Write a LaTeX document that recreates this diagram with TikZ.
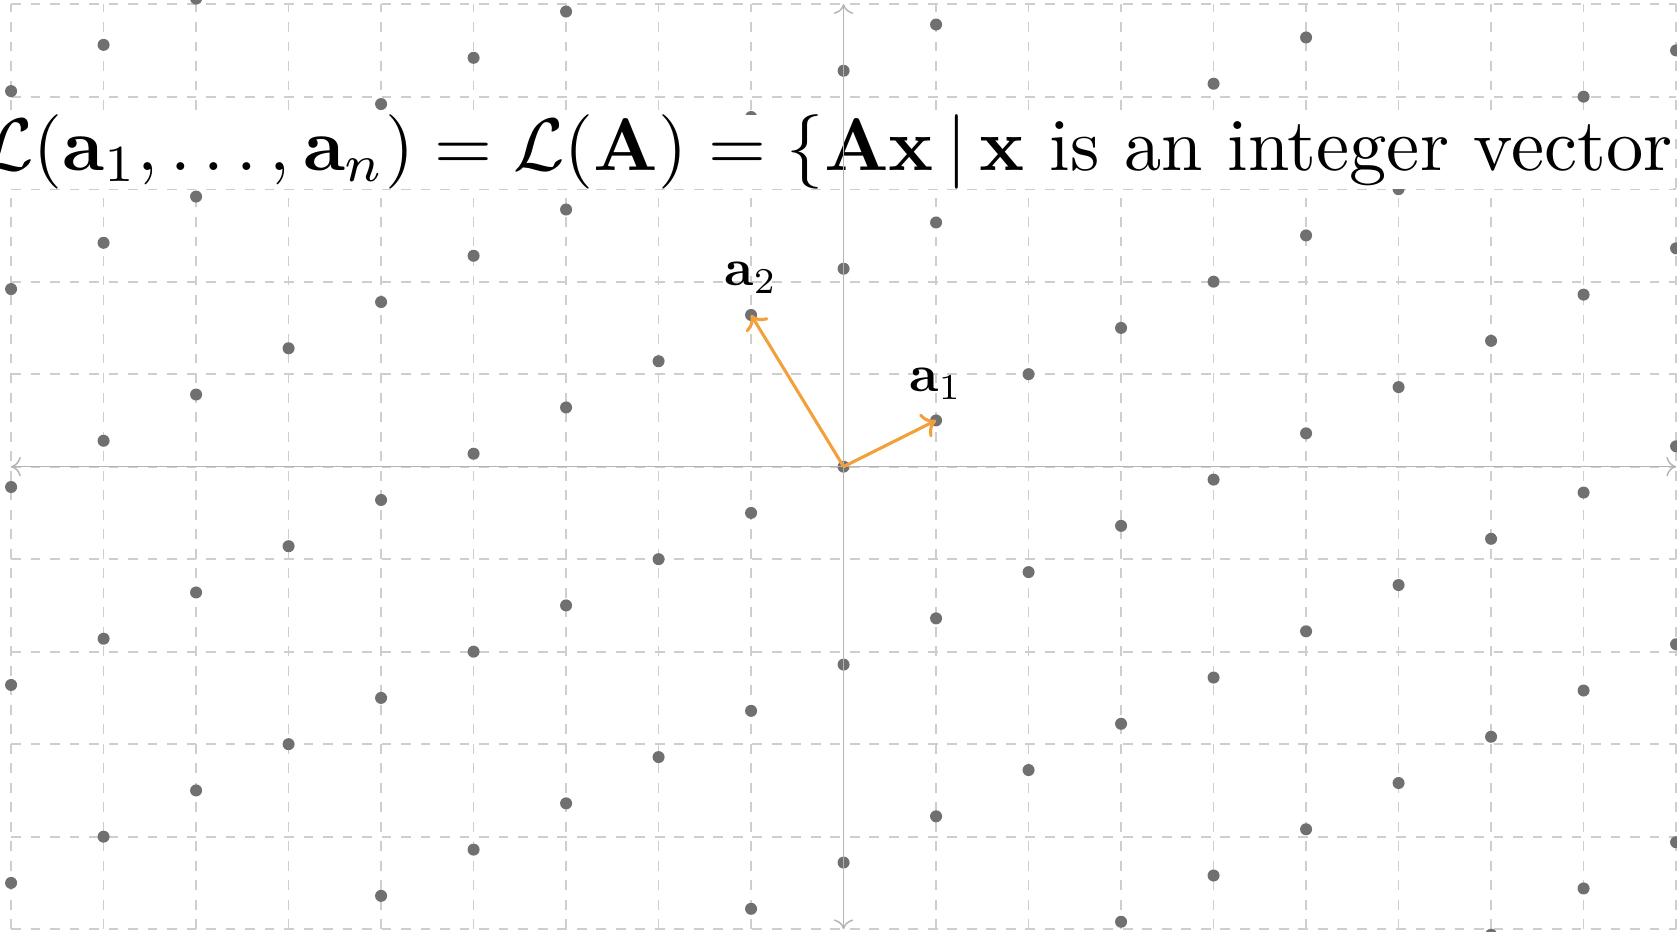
\documentclass[tikz,border=0pt]{standalone}
\usepackage{amsmath}
\usepackage{graphicx}
\usetikzlibrary{arrows.meta,calc}
\definecolor{gridc}{RGB}{206,206,206}
\definecolor{axisc}{RGB}{180,180,180}
\definecolor{dotc}{RGB}{112,112,112}
\definecolor{vecc}{RGB}{242,160,60}
\begin{document}
\begin{tikzpicture}[
  gridline/.style={draw=gridc, dashed, line width=0.55pt},
  axisline/.style={draw=axisc, line width=0.45pt, {To[length=3pt,width=6pt]}-{To[length=3pt,width=6pt]}},
  latdot/.style={circle, fill=dotc, inner sep=0pt, minimum size=0.13cm},
  basisvec/.style={draw=vecc, line width=0.95pt, -{To[length=4pt,width=8pt]}},
  veclabel/.style={anchor=base, inner sep=0pt},
  titlebox/.style={fill=white, inner sep=0pt, anchor=base east}
]
\useasboundingbox (-9.12,-5.02) rectangle (9.01,5.045);
\clip (-9.12,-5.02) rectangle (9.01,5.045);
% grid
\foreach \i in {-9,...,9} \draw[gridline] (\i,-5) -- (\i,5);
\foreach \j in {-5,...,5} \draw[gridline] (-9,\j) -- (9,\j);
% lattice points
\foreach \i in {-9,...,9} {
  \foreach \n in {-4,...,4} {
    \node[latdot] (p\i n\n) at ({\i},{0.5*\i+2.14*\n}) {};
  }
}
% title
\node[titlebox] (title) at (8.97,3.2) {\scalebox{2.29}{$\mathcal{L}(\mathbf{a}_1,\ldots,\mathbf{a}_n)=\mathcal{L}(\mathbf{A})=\{\mathbf{A}\mathbf{x}\,|\,\mathbf{x}\text{ is an integer vector}$}};
% axes
\coordinate (xl) at (-9,0);
\coordinate (xr) at (9,0);
\coordinate (yb) at (0,-5);
\coordinate (yt) at (0,5);
\draw[axisline] (xl) -- (xr);
\draw[axisline] (yb) -- (yt);
% basis vectors
\coordinate (O) at (0,0);
\coordinate (A1) at (1,0.5);
\coordinate (A2) at (-1,1.64);
\draw[basisvec] (O) -- (A1);
\draw[basisvec] (O) -- (A2);
\node[veclabel] (l1) at ($(A1)+(0,0.31)$) {\scalebox{1.6}{$\mathbf{a}_1$}};
\node[veclabel] (l2) at ($(A2)+(0,0.32)$) {\scalebox{1.6}{$\mathbf{a}_2$}};
\end{tikzpicture}
\end{document}
